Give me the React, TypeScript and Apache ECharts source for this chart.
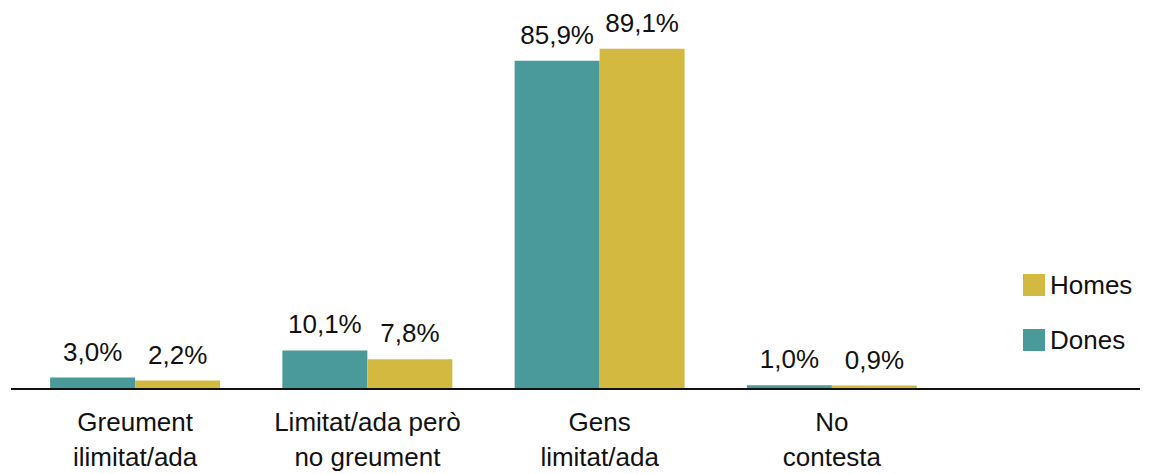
import React, { useEffect, useRef } from "react";
import * as echarts from "echarts";

const categories = ["Greument\nilimitat/ada", "Limitat/ada però\nno greument", "Gens\nlimitat/ada", "No\ncontesta"];
const dones = [3.0, 10.1, 85.9, 1.0];
const homes = [2.2, 7.8, 89.1, 0.9];

const TEAL = "#4a9a9a";
const GOLD = "#d4b940";
const FONT = "Liberation Sans, Arial, Helvetica, sans-serif";

const fmt = (v: number) => v.toFixed(1).replace(".", ",") + "%";

export default function App() {
  const ref = useRef<HTMLDivElement>(null);
  useEffect(() => {
    if (!ref.current) return;
    const chart = echarts.init(ref.current, undefined, { renderer: "svg" });
    const label = {
      show: true,
      position: "top" as const,
      distance: 13,
      fontSize: 26,
      fontFamily: FONT,
      color: "#111",
      formatter: (p: any) => fmt(p.value),
    };
    chart.setOption({
      animation: false,
      backgroundColor: "#fff",
      grid: { left: 19, right: 201, top: 7, bottom: 85, containLabel: false, outerBoundsMode: "none" },
      legend: {
        data: ["Homes", "Dones"],
        orient: "vertical",
        left: 1018,
        top: 267,
        itemWidth: 22,
        itemHeight: 22,
        itemGap: 29,
        icon: "rect",
        textStyle: { fontSize: 26, fontFamily: FONT, color: "#111" },
      },
      xAxis: {
        type: "category",
        data: categories,
        axisLine: { show: false },
        axisTick: { show: false },
        axisLabel: {
          fontSize: 26,
          fontFamily: FONT,
          color: "#111",
          lineHeight: 35,
          margin: 15,
          interval: 0,
        },
      },
      yAxis: {
        type: "value",
        min: 0,
        max: 100,
        show: false,
        splitLine: { show: false },
      },
      graphic: [
        {
          type: "line",
          shape: { x1: 11, y1: 389, x2: 1140, y2: 389 },
          style: { stroke: "#111", lineWidth: 2 },
          z: 10,
        },
      ],
      series: [
        {
          name: "Dones",
          type: "bar",
          data: dones,
          barWidth: 85,
          barGap: "0%",
          itemStyle: { color: TEAL },
          label,
        },
        {
          name: "Homes",
          type: "bar",
          data: homes,
          barWidth: 85,
          barGap: "0%",
          itemStyle: { color: GOLD },
          label,
        },
      ],
    });
    return () => chart.dispose();
  }, []);
  return (
    <div
      ref={ref}
      style={{ position: "absolute", left: 0, top: 0, width: 1149, height: 474 }}
    />
  );
}
